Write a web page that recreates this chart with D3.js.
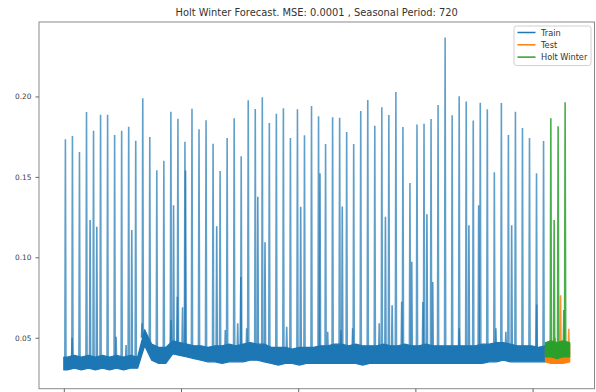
<!DOCTYPE html>
<html><head><meta charset="utf-8">
<script src="https://cdn.jsdelivr.net/npm/d3@7/dist/d3.min.js"></script>
<style>
body{margin:0;background:#fff}
svg{display:block}
text{font-family:"DejaVu Sans",sans-serif}
</style>
</head><body>
<svg id="chart" width="596" height="392"></svg>
<script>
// ---------------- data ----------------
const chartTitle = "Holt Winter Forecast. MSE: 0.0001 , Seasonal Period: 720";
const seriesNames = ["Train", "Test", "Holt Winter"];
const seasonalPeriod = 720;
const firstSpikeIndex = 164;
const xTickValues = [0, 12000, 24000, 36000, 48000];
const yTickValues = [0.05, 0.10, 0.15, 0.20];

// daily spike peaks of the training series (one per seasonal period)
const trainPeaks = [
  0.1734,0.1754,0.1655,0.1904,0.1787,0.1887,0.1887,0.1761,0.1787,0.1812,
  0.1725,0.1989,0.1748,0.1541,0.1601,0.1905,0.1862,0.1719,0.1924,0.1796,
  0.1852,0.1706,0.1537,0.1742,0.1864,0.1628,0.1976,0.1922,0.1995,0.1835,
  0.1893,0.1927,0.1742,0.1920,0.1759,0.1941,0.1877,0.1705,0.1871,0.1868,
  0.1779,0.1705,0.1910,0.1978,0.1818,0.1933,0.1885,0.2028,0.1810,0.1462,
  0.1825,0.1831,0.1860,0.1947,0.2366,0.1883,0.2001,0.1968,0.1850,0.1961,
  0.1920,0.1529,0.1960,0.1761,0.1905,0.1804,0.1742,0.1522,0.1723
];
// upper / lower edge of the noisy baseline, one value per period
const trainHi = [
  0.038,0.039,0.038,0.039,0.038,0.039,0.038,0.039,0.038,0.039,0.038,
  0.055,0.046,0.044,0.044,0.048,0.047,0.046,0.045,0.045,
  0.044,0.045,0.045,0.046,0.045,0.046,0.047,0.046,0.046,
  0.044,0.044,0.044,0.043,0.044,0.044,0.044,
  0.045,0.045,0.046,0.046,0.045,0.046,0.045,0.045,0.045,0.046,0.045,0.045,0.046,0.045,
  0.045,0.046,0.045,0.045,0.045,0.045,0.045,0.045,0.045,0.046,
  0.046,0.047,0.047,0.046,0.045,0.045,0.045,0.044,0.045
];
const trainLo = [
  0.030,0.031,0.030,0.031,0.030,0.031,0.030,0.031,0.030,0.031,0.031,
  0.045,0.036,0.034,0.034,0.040,0.039,0.038,0.037,0.036,
  0.035,0.035,0.034,0.035,0.035,0.035,0.036,0.036,0.035,
  0.034,0.033,0.034,0.034,0.033,0.034,0.034,
  0.034,0.034,0.034,0.034,0.034,0.034,0.033,0.034,0.034,0.034,0.034,0.034,0.034,0.034,
  0.034,0.034,0.034,0.034,0.034,0.034,0.034,0.034,0.034,0.034,
  0.035,0.035,0.036,0.035,0.035,0.035,0.035,0.035,0.035
];
// secondary spikes and small bumps of the training series
const trainExtraIdx = [2692,3377,6959,11237,11626,12158,12465,15658,18124,19864,20601,22822,24255,26230,28513,
  32933,33619,34602,35625,36771,37181,37774,41479,42482,45859,48418,
  849,5352,6376,8013,10981,16538,17807,18728,27018,28379,29576,32299,40486,44242,45265];
const trainExtraVal = [0.1232,0.1190,0.1170,0.1324,0.0755,0.0690,0.1540,0.1193,0.0878,0.1376,0.1093,0.0568,0.1314,0.1522,0.1316,
  0.1252,0.0702,0.0723,0.0972,0.0722,0.1268,0.0847,0.1200,0.1324,0.1200,0.0707,
  0.0500,0.0506,0.0455,0.0590,0.0610,0.0548,0.0590,0.0558,0.0537,0.0548,0.0558,0.0590,0.0558,0.0558,0.0537];

// test series
const testIdx = [49320, 49900, 50500, 51100, 51800];
const testHi = [0.044, 0.045, 0.044, 0.045, 0.046];
const testLo = [0.035, 0.034, 0.034, 0.034, 0.035];
const testExtraIdx = [50300, 50863, 51700];
const testExtraVal = [0.0500, 0.0764, 0.0556];

// Holt Winter forecast
const hwIdx = [49320, 49900, 50500, 51100, 51800];
const hwHi = [0.047, 0.048, 0.047, 0.048, 0.047];
const hwLo = [0.038, 0.038, 0.037, 0.038, 0.038];
const hwPeakIdx = [49868, 50615, 51332];
const hwPeaks = [0.1864, 0.1815, 0.1964];
const hwExtraIdx = [50208, 51200];
const hwExtraVal = [0.1232, 0.0672];

// ---------------- drawing ----------------
const colors = ["#1f77b4", "#ff7f0e", "#2ca02c"];
const svg = d3.select("#chart");
const L = 39, R = 594.5, T = 22, B = 388.7;
const x = d3.scaleLinear().domain([-2540, 54340]).range([L, R]);
const y = d3.scaleLinear().domain([0.0183, 0.2463]).range([B, T]);

const defs = svg.append("defs");
defs.append("clipPath").attr("id", "clip")
  .append("rect").attr("x", L).attr("y", T).attr("width", R - L).attr("height", B - T);
defs.append("filter").attr("id", "soft").attr("x", -0.01).attr("y", -0.01).attr("width", 1.02).attr("height", 1.02)
  .append("feGaussianBlur").attr("stdDeviation", 0.45);
const plot = svg.append("g").attr("clip-path", "url(#clip)")
  .append("g").attr("filter", "url(#soft)");

const area = d3.area().x(d => x(d[0])).y0(d => y(d[1])).y1(d => y(d[2]));
const line = d3.line().x(d => x(d[0])).y(d => y(d[1]));
const DELTA = 60;

function drawBand(pts, color) {
  plot.append("path").attr("d", area(pts))
    .attr("fill", color).attr("stroke", color).attr("stroke-width", 1.2)
    .attr("stroke-linejoin", "round");
}
function drawSpike(idx, base, peak, color, op) {
  plot.append("path")
    .attr("d", line([[idx - DELTA, base], [idx, peak], [idx + DELTA, base]]))
    .attr("fill", "none").attr("stroke", color).attr("stroke-width", 1.6)
    .attr("stroke-opacity", op).attr("stroke-linejoin", "miter");
}

// Train
const trainBand = [[0, trainLo[0], trainHi[0]]];
trainHi.forEach((h, k) => trainBand.push([k * seasonalPeriod + seasonalPeriod / 2, trainLo[k], h]));
drawBand(trainBand, colors[0]);
const midTrain = k => (trainLo[k] + trainHi[k]) / 2;
trainPeaks.forEach((p, k) => drawSpike(firstSpikeIndex + k * seasonalPeriod, midTrain(k), p, colors[0], 0.7));
trainExtraIdx.forEach((idx, i) => {
  const k = Math.min(trainHi.length - 1, Math.floor(idx / seasonalPeriod));
  drawSpike(idx, midTrain(k), trainExtraVal[i], colors[0], 0.75);
});

// Test
drawBand(testIdx.map((v, i) => [v, testLo[i], testHi[i]]), colors[1]);
testExtraIdx.forEach((idx, i) => drawSpike(idx, 0.040, testExtraVal[i], colors[1], 0.85));

// Holt Winter
drawBand(hwIdx.map((v, i) => [v, hwLo[i], hwHi[i]]), colors[2]);
hwPeakIdx.forEach((idx, i) => drawSpike(idx, 0.042, hwPeaks[i], colors[2], 0.85));
hwExtraIdx.forEach((idx, i) => drawSpike(idx, 0.042, hwExtraVal[i], colors[2], 0.85));

// Axes frame
svg.append("rect").attr("x", L).attr("y", T).attr("width", R - L).attr("height", B - T)
  .attr("fill", "none").attr("stroke", "#8a8a8a").attr("stroke-width", 1);

// Y axis
const yAxis = d3.axisLeft(y).tickValues(yTickValues).tickFormat(d3.format(".2f"))
  .tickSize(3.5).tickPadding(4);
const gy = svg.append("g").attr("transform", `translate(${L},0)`).call(yAxis);
gy.select(".domain").remove();
gy.selectAll("line").attr("stroke", "#666");
gy.selectAll("text").attr("fill", "#444").style("font-size", "7.4px")
  .style("font-family", "'DejaVu Sans',sans-serif");

// X axis (labels fall outside the picture)
const xAxis = d3.axisBottom(x).tickValues(xTickValues).tickSize(3.5).tickFormat("");
const gx = svg.append("g").attr("transform", `translate(0,${B})`).call(xAxis);
gx.select(".domain").remove();
gx.selectAll("line").attr("stroke", "#666");

// Title
svg.append("text").attr("x", (L + R) / 2).attr("y", 16).attr("text-anchor", "middle")
  .style("font-size", "9.9px").attr("fill", "#333").text(chartTitle);

// Legend
const lg = svg.append("g");
lg.append("rect").attr("x", 514).attr("y", 26).attr("width", 77).attr("height", 39.5)
  .attr("rx", 2.5).attr("fill", "#fff").attr("fill-opacity", 0.8)
  .attr("stroke", "#d0d0d0").attr("stroke-width", 1);
seriesNames.forEach((name, i) => {
  const yy = 32.5 + i * 12.3;
  lg.append("line").attr("x1", 517.5).attr("x2", 535.5).attr("y1", yy).attr("y2", yy)
    .attr("stroke", colors[i]).attr("stroke-width", 1.5);
  lg.append("text").attr("x", 541).attr("y", yy + 3).style("font-size", "8.2px")
    .attr("fill", "#333").text(name);
});
</script>
</body></html>
